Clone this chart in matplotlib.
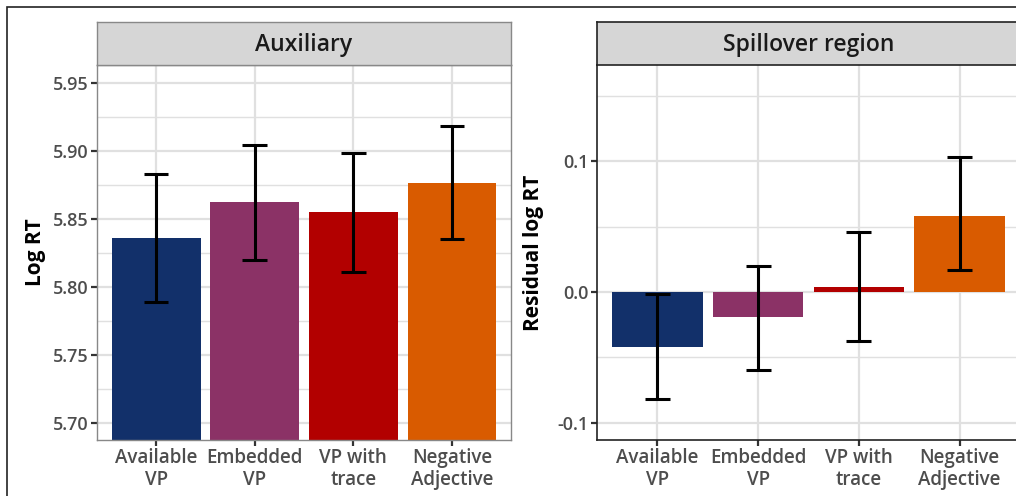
import matplotlib
matplotlib.use("Agg")
import matplotlib.pyplot as plt
from matplotlib.patches import Rectangle
import numpy as np

categories = ["Available\nVP", "Embedded\nVP", "VP with\ntrace", "Negative\nAdjective"]
colors = ["#12306A", "#8B3266", "#B20000", "#D95B00"]

aux_mean = [5.836, 5.8625, 5.855, 5.8765]
aux_lo = [5.789, 5.820, 5.811, 5.835]
aux_hi = [5.883, 5.904, 5.8985, 5.918]
aux_ticks = [5.70, 5.75, 5.80, 5.85, 5.90, 5.95]

sp_mean = [-0.042, -0.019, 0.004, 0.058]
sp_lo = [-0.0817, -0.0595, -0.0374, 0.0168]
sp_hi = [-0.0015, 0.0198, 0.0458, 0.103]
sp_ticks = [-0.1, 0.0, 0.1]

FONT = "Open Sans"
plt.rcParams['font.family'] = [FONT, 'DejaVu Sans']

W, H = 1016, 496
fig = plt.figure(figsize=(W / 100, H / 100), dpi=100)

def fx(px):
    return px / W

def fy(py):
    return 1 - py / H

# outer figure border
fig.patches.append(Rectangle((fx(7), fy(600)), 2.0, fy(7) - fy(600), transform=fig.transFigure,
                             fill=False, edgecolor="#222222", linewidth=1.2, clip_on=False))

def panel(x0, x1, ylim, ticks, minor, title, ylabel, ylabel_x, means, lo, hi, fmt, classic):
    ax = fig.add_axes([fx(x0), fy(440), fx(x1) - fx(x0), fy(65) - fy(440)])
    x = np.arange(1, len(categories) + 1)
    ax.set_xlim(0.4, 4.6)
    ax.set_ylim(*ylim)
    ax.set_axisbelow(True)
    ax.set_yticks(ticks)
    ax.set_yticklabels([fmt(t) for t in ticks], fontweight="semibold", fontsize=13)
    ax.set_yticks(minor, minor=True)
    ax.set_xticks(x)
    ax.set_xticklabels(categories, linespacing=1.12, fontweight="semibold", fontsize=13.5)
    ax.grid(True, which="major", color="#E0E0E0", linewidth=1.6)
    ax.grid(True, which="minor", axis="y", color="#E0E0E0", linewidth=1.0)
    ax.tick_params(which="minor", length=0)
    ax.tick_params(which="major", length=4, width=1.6, color="#333333",
                   labelcolor="#4D4D4D", pad=2)
    ax.bar(x, means, width=0.9, color=colors, zorder=2)
    ax.vlines(x, lo, hi, color="black", linewidth=2.2, zorder=3)
    ax.hlines(lo, x - 0.125, x + 0.125, color="black", linewidth=2.2, zorder=3)
    ax.hlines(hi, x - 0.125, x + 0.125, color="black", linewidth=2.2, zorder=3)
    if classic:
        for s in ["top", "right"]:
            ax.spines[s].set_visible(False)
        for s in ["left", "bottom"]:
            ax.spines[s].set_color("#222222")
            ax.spines[s].set_linewidth(1.2)
        scol = "#222222"
    else:
        for s in ax.spines.values():
            s.set_color("#888888")
            s.set_linewidth(1.0)
        scol = "#888888"
    # strip
    sax = fig.add_axes([fx(x0), fy(65), fx(x1) - fx(x0), fy(22) - fy(65)])
    sax.set_xticks([])
    sax.set_yticks([])
    sax.set_facecolor("#D6D6D6")
    for s in sax.spines.values():
        s.set_color(scol)
        s.set_linewidth(1.0 if not classic else 1.2)
    sax.text(0.5, 0.47, title, transform=sax.transAxes, ha="center", va="center",
             fontsize=16.5, color="#1A1A1A", fontweight="semibold")
    fig.text(fx(ylabel_x), (fy(440) + fy(65)) / 2, ylabel, rotation=90, ha="center", va="center",
             fontsize=15, fontweight="bold", color="black")
    return ax

panel(97, 511, (5.6875, 5.963), aux_ticks, [5.725, 5.775, 5.825, 5.875, 5.925],
      "Auxiliary", "Log RT", 35, aux_mean, aux_lo, aux_hi, lambda t: f"{t:.2f}", False)

panel(597, 1020, (-0.113, 0.1733), sp_ticks, [-0.05, 0.05, 0.15],
      "Spillover region", "Residual log RT", 533, sp_mean, sp_lo, sp_hi,
      lambda t: f"{t:.1f}", True)

fig.savefig("out.png", dpi=100)
